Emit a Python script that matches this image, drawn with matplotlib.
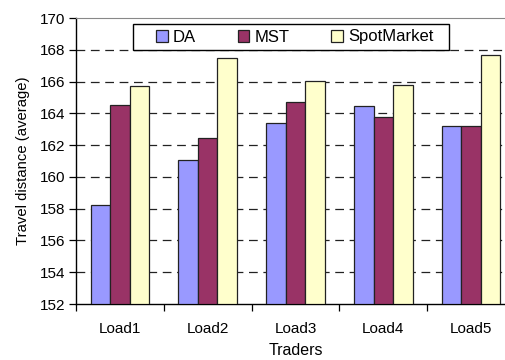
import numpy as np
import matplotlib
matplotlib.use("Agg")
import matplotlib.pyplot as plt
from matplotlib.patches import Rectangle

plt.rcParams['font.family'] = ['Liberation Sans', 'DejaVu Sans']

# average travel distance per load, one list per trading scheme
loads = ['Load1', 'Load2', 'Load3', 'Load4', 'Load5']
da = [158.25, 161.05, 163.4, 164.45, 163.2]
mst = [164.5, 162.45, 164.7, 163.8, 163.2]
spot = [165.75, 167.5, 166.05, 165.8, 167.7]
series_names = ['DA', 'MST', 'SpotMarket']
colors = ['#9999FF', '#993366', '#FFFFCC']

W, H = 506, 360
fig = plt.figure(figsize=(W / 100, H / 100), dpi=100)
# plot area runs a little past the right edge of the figure
ax = fig.add_axes([76 / W, 56 / H, 439 / W, 286 / H])

x = np.arange(len(loads)) + 0.5
w = 0.222
for i, (vals, name, c) in enumerate(zip([da, mst, spot], series_names, colors)):
    ax.bar(x + (i - 1) * w, np.array(vals) - 152, width=w, bottom=152,
           color=c, edgecolor='#222222', linewidth=0.9, label=name, zorder=3)

ax.set_xlim(0, 5)
ax.set_ylim(152, 170)
ax.set_yticks(np.arange(152, 171, 2))
for g in range(154, 170, 2):
    ax.axhline(g, color='#222222', lw=0.9, dashes=(7, 4.5), zorder=1)

ax.set_xticks(np.arange(0, 5))
ax.set_xticklabels([])
ax.set_xticks(x, minor=True)
ax.set_xticklabels(loads, minor=True, fontsize=11)
ax.tick_params(axis='x', which='minor', length=0, pad=13)
ax.tick_params(axis='x', which='major', length=5, width=0.9, direction='out')
ax.tick_params(axis='y', length=5, width=0.9, direction='out', labelsize=11, pad=3)

ax.spines['top'].set_color('#888888')
ax.spines['right'].set_visible(False)
for s in ['left', 'bottom']:
    ax.spines[s].set_linewidth(1.0)
    ax.spines[s].set_color('black')

ax.set_xlabel('Traders', fontsize=11.5, labelpad=5)
ax.set_ylabel('Travel distance (average)', fontsize=10.7, labelpad=7)

# legend entries without a frame; the box is drawn separately so it can be wider
leg = ax.legend(loc='center left', bbox_to_anchor=(153 / W, 1 - 37 / H),
                bbox_transform=fig.transFigure, ncol=3, fontsize=12,
                frameon=False, handlelength=0.7, handleheight=0.7,
                handletextpad=0.3, columnspacing=2.5, borderpad=0.2,
                borderaxespad=0)
leg.set_zorder(6)
for p in leg.get_patches():
    p.set_linewidth(0.9)
ax.add_patch(Rectangle((133 / W, 1 - 50 / H), 316 / W, 26 / H,
                       transform=fig.transFigure, facecolor='white',
                       edgecolor='black', linewidth=1.0, zorder=5,
                       clip_on=False))

fig.savefig('out.png', dpi=100)
